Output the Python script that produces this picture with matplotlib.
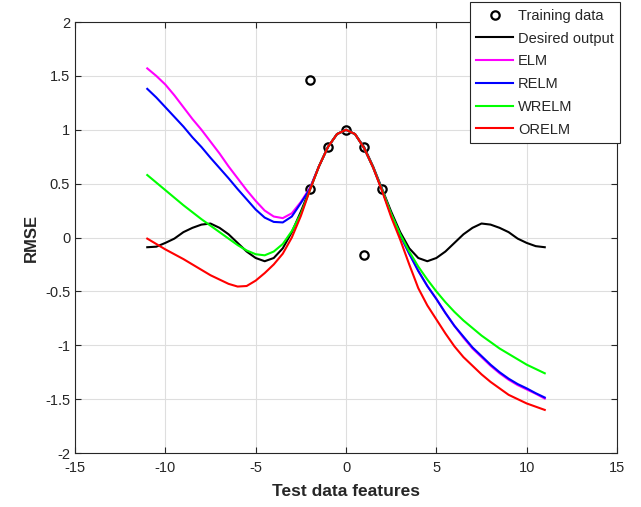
import matplotlib.pyplot as plt

plt.rcParams['font.family'] = ['Liberation Sans', 'DejaVu Sans']
plt.rcParams['axes.unicode_minus'] = False

# test inputs
x = [-11, -10.5, -10, -9.5, -9, -8.5, -8, -7.5, -7, -6.5, -6, -5.5, -5, -4.5,
     -4, -3.5, -3, -2.5, -2, -1.5, -1, -0.5, 0, 0.5, 1, 1.5, 2, 2.5, 3, 3.5,
     4, 4.5, 5, 5.5, 6, 6.5, 7, 7.5, 8, 8.5, 9, 9.5, 10, 10.5, 11]

# training points (two outliers)
train_x = [-2, -2, -1, 0, 1, 1, 2]
train_y = [0.45, 1.46, 0.84, 1.0, 0.84, -0.16, 0.45]

desired = [-0.09, -0.085, -0.05, -0.01, 0.05, 0.09, 0.12, 0.13, 0.09, 0.03,
           -0.05, -0.13, -0.19, -0.22, -0.19, -0.10, 0.05, 0.24, 0.45, 0.66,
           0.84, 0.96, 1.0, 0.96, 0.84, 0.66, 0.45, 0.24, 0.05, -0.10, -0.19,
           -0.22, -0.19, -0.13, -0.05, 0.03, 0.09, 0.13, 0.12, 0.09, 0.05,
           -0.01, -0.05, -0.08, -0.09]

elm = [1.57, 1.50, 1.42, 1.32, 1.21, 1.10, 1.00, 0.89, 0.78, 0.66, 0.55,
       0.44, 0.34, 0.25, 0.195, 0.18, 0.225, 0.33, 0.46, 0.66, 0.84, 0.96,
       1.0, 0.96, 0.83, 0.65, 0.44, 0.21, 0.02, -0.15, -0.31, -0.45, -0.57,
       -0.70, -0.82, -0.93, -1.03, -1.11, -1.19, -1.26, -1.32, -1.37, -1.41,
       -1.45, -1.495]

relm = [1.38, 1.30, 1.21, 1.12, 1.03, 0.93, 0.84, 0.74, 0.645, 0.55, 0.45,
        0.355, 0.26, 0.185, 0.145, 0.14, 0.195, 0.32, 0.45, 0.66, 0.84, 0.96,
        1.0, 0.96, 0.83, 0.65, 0.44, 0.21, 0.02, -0.15, -0.31, -0.45, -0.57,
        -0.70, -0.82, -0.92, -1.02, -1.10, -1.18, -1.25, -1.31, -1.36, -1.40,
        -1.445, -1.485]

wrelm = [0.58, 0.51, 0.44, 0.37, 0.30, 0.235, 0.17, 0.11, 0.05, -0.01, -0.07,
         -0.12, -0.155, -0.165, -0.13, -0.06, 0.06, 0.22, 0.44, 0.66, 0.84,
         0.96, 1.0, 0.96, 0.83, 0.65, 0.44, 0.22, 0.03, -0.13, -0.27, -0.39,
         -0.50, -0.60, -0.69, -0.77, -0.84, -0.91, -0.97, -1.03, -1.08, -1.13,
         -1.18, -1.22, -1.26]

orelm = [-0.01, -0.06, -0.11, -0.155, -0.20, -0.25, -0.30, -0.35, -0.39,
         -0.43, -0.455, -0.45, -0.40, -0.33, -0.25, -0.15, 0.00, 0.20, 0.44,
         0.66, 0.84, 0.96, 1.0, 0.96, 0.83, 0.65, 0.43, 0.19, -0.02, -0.25,
         -0.47, -0.63, -0.76, -0.89, -1.01, -1.11, -1.19, -1.27, -1.34, -1.40,
         -1.46, -1.50, -1.54, -1.57, -1.60]

fig = plt.figure(figsize=(6.41, 5.07), dpi=100)
ax = fig.add_axes([0.117, 0.1065, 0.8456, 0.85])

ax.plot(train_x, train_y, 'o', color='black', markerfacecolor='none',
        markersize=6, markeredgewidth=1.6, label='Training data')
ax.plot(x, desired, color='black', lw=1.5, label='Desired output')
ax.plot(x, elm, color='#ff00ff', lw=1.5, label='ELM')
ax.plot(x, relm, color='#0000ff', lw=1.5, label='RELM')
ax.plot(x, wrelm, color='#00ff00', lw=1.5, label='WRELM')
ax.plot(x, orelm, color='#ff0000', lw=1.5, label='ORELM')

ax.set_xlim(-15, 15)
ax.set_ylim(-2, 2)
ax.set_xticks(range(-15, 16, 5))
ax.set_yticks([-2, -1.5, -1, -0.5, 0, 0.5, 1, 1.5, 2])
ax.set_yticklabels(['-2', '-1.5', '-1', '-0.5', '0', '0.5', '1', '1.5', '2'])
ax.grid(True, color='#dedede', lw=0.8)
ax.set_axisbelow(True)
ax.tick_params(direction='in', top=True, right=True, labelsize=10.5,
               colors='#262626', length=4, width=0.8)
ax.tick_params(axis='x', pad=6)
for s in ax.spines.values():
    s.set_color('#262626')
    s.set_linewidth(0.8)

ax.set_xlabel('Test data features', fontsize=12.5, fontweight='bold',
              color='#262626', labelpad=6)
ax.set_ylabel('RMSE', fontsize=12, fontweight='bold', color='#262626')

leg = ax.legend(loc='upper right', bbox_to_anchor=(1.006, 1.046), fontsize=10.5,
                frameon=True, fancybox=False, handlelength=2.5,
                borderaxespad=0, labelspacing=0.6, borderpad=0.45,
                handletextpad=0.35)
leg.get_frame().set_edgecolor('#262626')
leg.get_frame().set_linewidth(0.8)
leg.get_frame().set_alpha(1)
for t in leg.get_texts():
    t.set_color('#262626')

fig.savefig('out.png', dpi=100)
